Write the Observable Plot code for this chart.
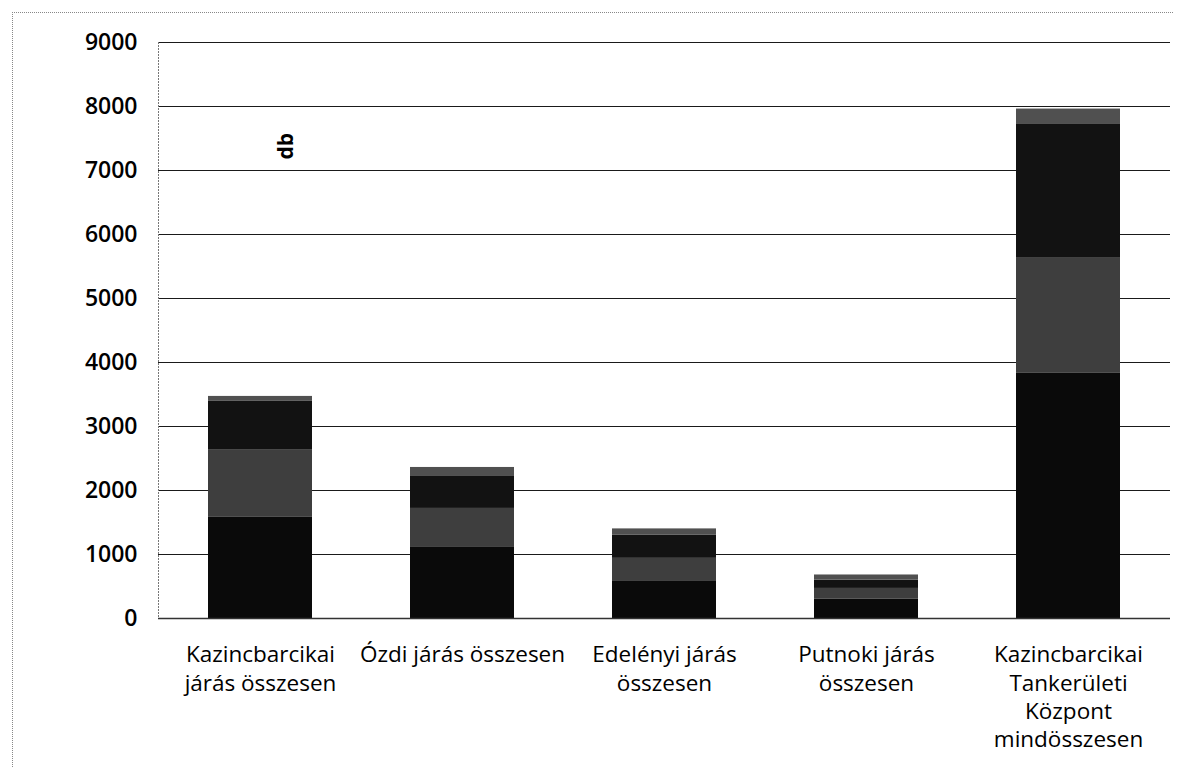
<!DOCTYPE html>
<html>
<head>
<meta charset="utf-8">
<script src="https://cdn.jsdelivr.net/npm/d3@7"></script>
<script src="https://cdn.jsdelivr.net/npm/@observablehq/plot@0.6"></script>
<style>
  html, body { margin: 0; padding: 0; background: #fff; }
  #wrap { position: relative; width: 1185px; height: 767px; overflow: hidden; }
  #border { position: absolute; left: 12px; top: 12px; width: 1160px; height: 800px;
            border-left: 1px dotted #888; border-top: 1px dotted #888; pointer-events: none; }
  #chart { position: absolute; left: 0; top: 0; }
</style>
</head>
<body>
<div id="wrap"><div id="border"></div><div id="chart"></div></div>
<script>
const categories = [
  "Kazincbarcikai járás összesen",
  "Ózdi járás összesen",
  "Edelényi járás összesen",
  "Putnoki járás összesen",
  "Kazincbarcikai Tankerületi Központ mindösszesen"
];
const tickLabels = [
  "Kazincbarcikai\njárás összesen",
  "Ózdi járás összesen",
  "Edelényi járás\nösszesen",
  "Putnoki járás\nösszesen",
  "Kazincbarcikai\nTankerületi\nKözpont\nmindösszesen"
];
const seriesNames = ["1", "2", "3", "4"];
const seriesColors = ["#0a0a0a", "#3e3e3e", "#121212", "#505050"];
const s1 = [1580, 1110, 590, 300, 3830];
const s2 = [1050, 610, 350, 170, 1810];
const s3 = [770, 510, 360, 130, 2090];
const s4 = [70, 130, 100, 80, 230];
const yTicks = [0, 1000, 2000, 3000, 4000, 5000, 6000, 7000, 8000, 9000];
const unitLabel = ["db"];

const seriesValues = [s1, s2, s3, s4];
const data = [];
seriesNames.forEach((s, si) => {
  categories.forEach((c, ci) => data.push({cat: c, series: s, value: seriesValues[si][ci]}));
});
const labelOf = new Map(categories.map((c, i) => [c, tickLabels[i]]));

const chart = Plot.plot({
  width: 1185,
  height: 767,
  marginLeft: 158,
  marginRight: 15,
  marginTop: 42,
  marginBottom: 149,
  style: {fontFamily: "'Open Sans', sans-serif", color: "#000", background: "transparent"},
  x: {domain: categories, paddingInner: 0.486, paddingOuter: 0.243},
  y: {domain: [0, 9000]},
  color: {domain: seriesNames, range: seriesColors},
  marks: [
    Plot.gridY(yTicks, {stroke: "#1a1a1a", strokeOpacity: 1, strokeWidth: 1}),
    Plot.frame({anchor: "left", stroke: "#777", strokeDasharray: "1,2"}),
    Plot.barY(data, {x: "cat", y: "value", fill: "series", order: seriesNames}),
    Plot.ruleY([0], {stroke: "#333", strokeWidth: 1.5}),
    Plot.axisY(yTicks, {tickSize: 0, tickPadding: 21, fontSize: 23, fontWeight: 600, label: null,
                        tickFormat: d => String(d)}),
    Plot.axisX({tickSize: 0, tickPadding: 24, fontSize: 22.5, lineHeight: 1.25, label: null,
                fontWeight: 500, tickFormat: d => labelOf.get(d)}),
    Plot.text(unitLabel, {frameAnchor: "top-left", dx: 120, dy: 117, rotate: -90,
                          fontSize: 21, fontWeight: "bold", fill: "#000"})
  ]
});
document.getElementById("chart").appendChild(chart);
</script>
</body>
</html>
